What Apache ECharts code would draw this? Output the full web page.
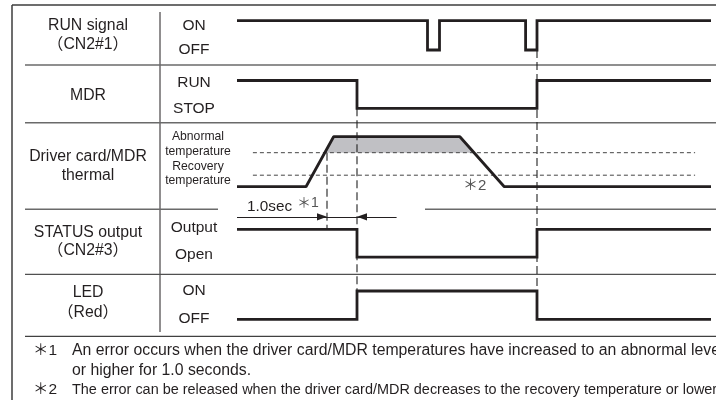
<!DOCTYPE html>
<html><head><meta charset="utf-8">
<script src="https://cdn.jsdelivr.net/npm/echarts@6/dist/echarts.min.js"></script>
<style>html,body{margin:0;padding:0;background:#fff}#c{width:716px;height:400px}</style>
</head><body><div id="c"></div>
<script>
// ---- data (time in seconds, levels per signal) ----
const T_END = 15.8;
const runTimes = [0, 6.35, 6.75, 9.62, 10.0, 15.8];
const runLevels = [1, 0, 1, 0, 1, 1];
const mdrTimes = [0, 4.0, 10.0, 15.8];
const mdrLevels = [1, 0, 1, 1];
const thermTimes = [0, 2.3, 3.22, 7.43, 8.91, 15.8];
const thermTemps = [0, 0, 100, 100, 0, 0];
const abnormalTemp = 68;
const recoveryTemp = 23;
const statusTimes = [0, 4.0, 10.0, 15.8];
const statusLevels = [1, 0, 1, 1];
const ledTimes = [0, 4.0, 10.0, 15.8];
const ledLevels = [0, 1, 0, 0];
const errorTime = 4.0;
const errorDelay = 1.0;
const releaseTime = 10.0;
const refLineRange = [0.53, 15.27];
const dimLineRange = [0, 5.32];
const dimLevel = 1.45;

const rowLabels = [['RUN signal', '（CN2#1）'], ['MDR'], ['Driver card/MDR', 'thermal'], ['STATUS output', '（CN2#3）'], ['LED', '（Red）']];
const stateLabels = [['ON', 'OFF'], ['RUN', 'STOP'], ['Abnormal', 'temperature', 'Recovery', 'temperature'], ['Output', 'Open'], ['ON', 'OFF']];
const notes = [
  ['＊1', 'An error occurs when the driver card/MDR temperatures have increased to an abnormal level'],
  ['', 'or higher for 1.0 seconds.'],
  ['＊2', 'The error can be released when the driver card/MDR decreases to the recovery temperature or lower']
];

const zip = (a, b) => a.map((t, i) => [t, b[i]]);
const INK = '#231f20';
const FONT = '"Liberation Sans", Arial, "Noto Sans CJK JP", sans-serif';

function aboveLevel(ts, vs, lvl) {
  const out = [];
  for (let i = 0; i < ts.length; i++) {
    if (i > 0) {
      const a = vs[i - 1] - lvl, b = vs[i] - lvl;
      if (a * b < 0) { const f = a / (a - b); out.push([ts[i - 1] + f * (ts[i] - ts[i - 1]), lvl]); }
    }
    if (vs[i] > lvl) out.push([ts[i], vs[i]]);
  }
  return out;
}
const fillPts = aboveLevel(thermTimes, thermTemps, abnormalTemp);

const chart = echarts.init(document.getElementById('c'), null, {renderer: 'canvas'});
// status grid extends upward to hold the 1.0 sec dimension line (levels 0..1.5)
const gridDefs = [
  {top: 20.7, height: 29.3, max: 1},
  {top: 80.5, height: 27.8, max: 1},
  {top: 136.7, height: 50, max: 100},
  {top: 215.4, height: 41.7, max: 1.5},
  {top: 291, height: 28.3, max: 1}
];
const grid = gridDefs.map(g => ({left: 237, right: 5, top: g.top, height: g.height}));
const xAxis = gridDefs.map((g, i) => ({type: 'value', gridIndex: i, min: 0, max: T_END, show: false}));
const yAxis = gridDefs.map((g, i) => ({type: 'value', gridIndex: i, min: 0, max: g.max, show: false}));

const stepSeries = (i, data) => ({
  type: 'line', xAxisIndex: i, yAxisIndex: i, step: 'end', data, symbol: 'none', clip: false,
  lineStyle: {color: INK, width: 2.8, join: 'miter'}, z: 5
});
const dashSeries = (lvl) => ({
  type: 'line', xAxisIndex: 2, yAxisIndex: 2, data: [[refLineRange[0], lvl], [refLineRange[1], lvl]],
  symbol: 'none', clip: false, lineStyle: {color: '#444', width: 1, type: [4, 3]}, z: 3
});

const series = [
  stepSeries(0, zip(runTimes, runLevels)),
  stepSeries(1, zip(mdrTimes, mdrLevels)),
  {
    type: 'custom', xAxisIndex: 2, yAxisIndex: 2, data: [[fillPts[0][0], abnormalTemp]], clip: false, z: 1,
    renderItem: (params, api) => ({type: 'polygon', shape: {points: fillPts.map(p => api.coord(p))}, style: {fill: '#c0c0c4'}})
  },
  dashSeries(abnormalTemp),
  dashSeries(recoveryTemp),
  {type: 'line', xAxisIndex: 2, yAxisIndex: 2, data: zip(thermTimes, thermTemps), symbol: 'none', clip: false,
   lineStyle: {color: INK, width: 2.8}, z: 5},
  Object.assign(stepSeries(3, zip(statusTimes, statusLevels)), {
    markLine: {
      silent: true, animation: false, symbol: ['none', 'none'],
      label: {show: false}, lineStyle: {color: INK, width: 1, type: 'solid'},
      emphasis: {disabled: true},
      data: [[{coord: [dimLineRange[0], dimLevel]}, {coord: [dimLineRange[1], dimLevel]}]]
    }
  }),
  stepSeries(4, zip(ledTimes, ledLevels))
];

// ---- static table layout ----
const graphic = [];
const hline = (x1, x2, y, color, w) => graphic.push({type: 'line', shape: {x1, y1: y, x2, y2: y}, style: {stroke: color, lineWidth: w}, silent: true});
const vline = (x, y1, y2, color, w) => graphic.push({type: 'line', shape: {x1: x, y1, x2: x, y2}, style: {stroke: color, lineWidth: w}, silent: true});
const text = (s, x, y, size, opts) => graphic.push({type: 'text', x, y, silent: true, z: 10,
  style: Object.assign({text: s, font: size + 'px ' + FONT, fill: INK, align: 'center', verticalAlign: 'middle'}, opts || {})});

hline(12, 716, 5, '#3c3c3c', 1.5);
vline(12, 5, 400, '#3c3c3c', 1.5);
vline(160, 12, 332, INK, 1);
hline(25, 716, 65, '#6a6a6a', 1.5);
hline(25, 716, 122.7, '#6a6a6a', 1.5);
hline(25, 218, 209.3, '#6a6a6a', 1.5);
hline(425, 716, 209.3, '#6a6a6a', 1.5);
hline(25, 716, 274.3, '#505050', 1.2);
hline(25, 716, 336.3, '#404040', 1.2);

const rowLabelY = [[26, 45], [96], [156.7, 176], [232.7, 251], [293, 313]];
rowLabels.forEach((r, i) => r.forEach((s, j) => text(s, 88, rowLabelY[i][j], 15.8)));
const stateY = [[26, 49.5], [82.7, 108.3], [136.7, 151.7, 166.7, 181], [228, 255], [290.7, 318.3]];
stateLabels.forEach((r, i) => r.forEach((s, j) => text(s, i === 2 ? 198 : 194, stateY[i][j], i === 2 ? 12.2 : 15.5)));

text('1.0sec', 247, 207, 15.3, {align: 'left'});
text('＊1', 297, 203, 14, {align: 'left', fill: '#555'});
text('＊2', 463, 186, 15, {align: 'left', fill: '#555'});

const noteY = [351, 371, 390];
const noteSize = [15.8, 15.8, 14.45];
notes.forEach((n, i) => {
  if (n[0]) text(n[0], 33, noteY[i], 15.5, {align: 'left'});
  text(n[1], 72, noteY[i], noteSize[i], {align: 'left'});
});

chart.setOption({animation: false, grid, xAxis, yAxis, series, graphic});

// ---- guide lines and arrowheads, positioned through the grids' scales ----
const px = (gi, t, v) => chart.convertToPixel({gridIndex: gi}, [t, v]);
const guides = [
  [px(1, errorTime, 0), px(4, errorTime, 1)],
  [px(0, releaseTime, 0), px(4, releaseTime, 1)],
  [px(2, errorTime - errorDelay, abnormalTemp), px(3, errorTime - errorDelay, 1)]
];
guides.forEach(g => graphic.push({type: 'line', silent: true, z: 4,
  shape: {x1: g[0][0], y1: g[0][1], x2: g[1][0], y2: g[1][1]},
  style: {stroke: '#222', lineWidth: 1.1, lineDash: [8, 4]}}));
const arrowHead = (tip, dir) => graphic.push({type: 'polygon', silent: true, z: 6,
  shape: {points: [[tip[0], tip[1]], [tip[0] - dir * 10, tip[1] - 3.6], [tip[0] - dir * 10, tip[1] + 3.6]]},
  style: {fill: INK}});
arrowHead(px(3, errorTime - errorDelay, dimLevel), 1);
arrowHead(px(3, errorTime, dimLevel), -1);
chart.setOption({graphic});
</script></body></html>
